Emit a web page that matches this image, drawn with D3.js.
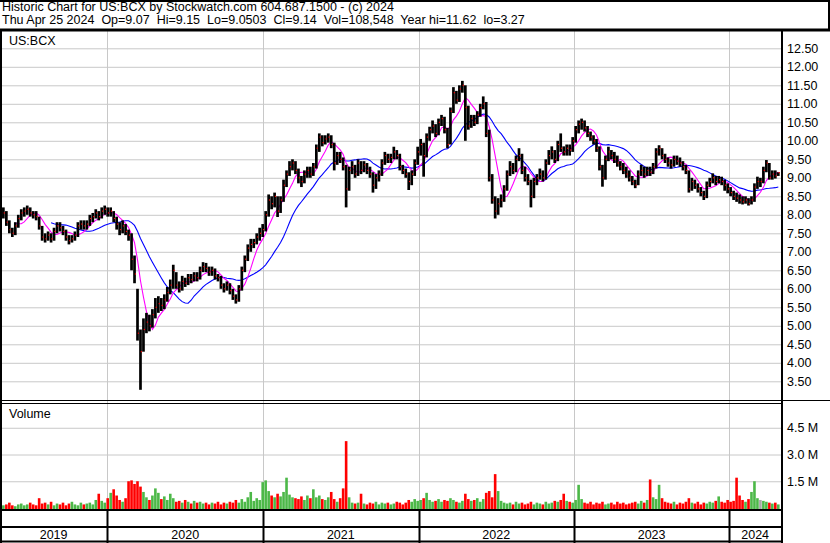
<!DOCTYPE html>
<html>
<head>
<meta charset="utf-8">
<script src="https://cdnjs.cloudflare.com/ajax/libs/d3/7.8.5/d3.min.js"></script>
<style>
    body { margin: 0; background: #fff; }
    svg { display: block; font-family: Arial, "Liberation Sans", sans-serif; }
</style>
</head>
<body>
<svg id="chart" width="830" height="543"></svg>
<script>
//weekly bars, one per thursday from Apr 25 2019 to Apr 25 2024
var firstWeek = new Date(2019, 3, 25);

var weekHigh = [
    8.15, 8.2, 8.1, 7.85, 7.65, 7.8, 8.0, 8.15, 8.2, 8.25,
    8.2, 8.1, 8.1, 7.95, 7.7, 7.5, 7.55, 7.5, 7.65, 7.8,
    7.8, 7.7, 7.6, 7.45, 7.45, 7.55, 7.8, 7.85, 7.85, 7.85,
    8.0, 8.05, 8.15, 8.1, 8.2, 8.25, 8.2, 8.2, 8.1, 7.95,
    7.8, 7.85, 7.75, 7.6, 7.5, 6.9, 6.0, 4.9, 5.2, 5.35,
    5.3, 5.45, 5.75, 5.8, 5.75, 5.85, 6.05, 6.25, 6.65, 6.45,
    6.2, 6.35, 6.3, 6.4, 6.4, 6.45, 6.45, 6.6, 6.72, 6.7,
    6.6, 6.6, 6.55, 6.4, 6.35, 6.15, 6.2, 6.15, 6.0, 5.85,
    6.1, 6.6, 6.9, 7.2, 7.35, 7.35, 7.5, 7.65, 7.75, 8.1,
    8.55, 8.5, 8.6, 8.5, 8.5, 8.95, 9.2, 9.45, 9.5, 9.45,
    9.25, 9.05, 9.2, 9.3, 9.3, 9.4, 9.9, 10.2, 10.15, 10.15,
    10.2, 10.15, 9.95, 9.7, 9.7, 9.55, 9.35, 9.3, 9.45, 9.35,
    9.5, 9.45, 9.45, 9.4, 9.3, 9.15, 9.1, 9.2, 9.5, 9.7,
    9.65, 9.65, 9.84, 9.75, 9.65, 9.35, 9.25, 9.15, 9.2, 9.5,
    9.84, 10.05, 9.95, 10.2, 10.38, 10.55, 10.45, 10.6, 10.7, 10.65,
    10.35, 10.9, 11.45, 11.35, 11.5, 11.62, 11.5, 10.95, 10.7, 10.7,
    10.8, 11.0, 11.2, 11.05, 10.3, 9.1, 8.5, 8.45, 8.55, 8.8,
    9.2, 9.45, 9.4, 9.6, 9.8, 9.65, 9.3, 9.1, 8.95, 9.0,
    9.1, 9.25, 9.2, 9.5, 9.75, 9.85, 9.75, 10.0, 10.2, 9.85,
    9.9, 9.9, 10.1, 10.4, 10.55, 10.6, 10.55, 10.4, 10.25, 10.15,
    10.05, 9.85, 9.35, 9.6, 9.84, 9.75, 9.7, 9.6, 9.45, 9.4,
    9.3, 9.2, 9.05, 8.95, 9.2, 9.35, 9.3, 9.3, 9.3, 9.4,
    9.8, 9.88, 9.8, 9.65, 9.55, 9.5, 9.6, 9.6, 9.55, 9.45,
    9.35, 9.2, 9.0, 8.95, 8.85, 8.75, 8.65, 8.9, 9.0, 9.12,
    9.05, 9.05, 9.03, 8.95, 8.85, 8.75, 8.65, 8.6, 8.55, 8.5,
    8.5, 8.45, 8.5, 8.85, 9.03, 9.0, 9.3, 9.48, 9.4, 9.2,
    9.2, 9.15
];

var weekLow = [
    7.9, 7.9, 7.7, 7.5, 7.4, 7.45, 7.65, 7.85, 7.95, 8.0,
    7.95, 7.9, 7.85, 7.6, 7.3, 7.25, 7.3, 7.25, 7.3, 7.5,
    7.55, 7.45, 7.3, 7.2, 7.25, 7.3, 7.4, 7.6, 7.6, 7.6,
    7.7, 7.8, 7.9, 7.85, 7.9, 8.0, 7.95, 7.95, 7.8, 7.6,
    7.45, 7.5, 7.45, 7.3, 6.5, 6.15, 4.6, 3.27, 4.3, 4.8,
    4.85, 4.95, 5.2, 5.35, 5.4, 5.45, 5.65, 5.85, 6.0, 6.0,
    5.9, 5.95, 6.05, 6.1, 6.15, 6.2, 6.2, 6.25, 6.45, 6.45,
    6.35, 6.35, 6.25, 6.2, 6.0, 5.9, 5.95, 5.85, 5.7, 5.6,
    5.65, 5.95, 6.45, 6.75, 7.0, 7.1, 7.2, 7.3, 7.4, 7.55,
    7.95, 8.15, 8.2, 7.94, 8.05, 8.35, 8.75, 9.05, 9.2, 9.1,
    8.85, 8.75, 8.85, 9.0, 9.0, 9.05, 9.25, 9.7, 9.85, 9.9,
    9.95, 9.8, 9.2, 9.35, 9.4, 9.2, 8.2, 8.65, 9.1, 9.0,
    9.05, 9.1, 9.15, 9.1, 9.0, 8.6, 8.7, 8.9, 9.05, 9.35,
    9.4, 9.4, 9.5, 9.5, 9.2, 9.1, 9.0, 8.67, 8.8, 9.05,
    9.35, 9.6, 9.03, 9.55, 10.0, 10.2, 10.1, 10.15, 10.4, 10.2,
    9.8, 9.9, 10.75, 11.0, 11.05, 11.3, 10.0, 10.3, 10.35, 10.4,
    10.45, 10.65, 10.85, 10.1, 8.9, 8.3, 7.9, 8.0, 8.2, 8.35,
    8.65, 9.05, 9.1, 9.15, 9.45, 9.1, 8.9, 8.8, 8.2, 8.45,
    8.8, 8.95, 8.9, 8.95, 9.35, 9.5, 9.4, 9.45, 9.7, 9.6,
    9.6, 9.6, 9.7, 9.95, 10.2, 10.3, 10.25, 10.1, 10.0, 9.9,
    9.7, 9.2, 8.76, 8.95, 9.45, 9.5, 9.4, 9.3, 9.2, 9.1,
    9.0, 8.9, 8.8, 8.72, 8.8, 9.05, 9.0, 9.05, 9.05, 9.1,
    9.25, 9.6, 9.5, 9.4, 9.3, 9.25, 9.3, 9.35, 9.3, 9.2,
    9.1, 8.6, 8.65, 8.7, 8.6, 8.5, 8.4, 8.45, 8.75, 8.85,
    8.8, 8.85, 8.8, 8.65, 8.58, 8.5, 8.4, 8.35, 8.3, 8.28,
    8.3, 8.25, 8.28, 8.35, 8.7, 8.75, 8.85, 9.15, 8.95, 8.95,
    8.98, 9.05
];

var weekClose = [
    8.0, 8.05, 7.8, 7.6, 7.5, 7.7, 7.9, 8.05, 8.1, 8.15,
    8.05, 8.0, 7.95, 7.7, 7.4, 7.35, 7.45, 7.35, 7.55, 7.7,
    7.65, 7.55, 7.4, 7.3, 7.35, 7.45, 7.7, 7.75, 7.7, 7.75,
    7.9, 7.95, 8.05, 7.95, 8.1, 8.15, 8.05, 8.1, 7.9, 7.75,
    7.6, 7.7, 7.55, 7.45, 6.8, 6.4, 4.8, 4.3, 4.9, 5.1,
    5.0, 5.3, 5.5, 5.6, 5.55, 5.7, 5.9, 6.1, 6.5, 6.1,
    6.0, 6.2, 6.15, 6.3, 6.25, 6.35, 6.3, 6.5, 6.6, 6.55,
    6.45, 6.5, 6.35, 6.3, 6.1, 6.0, 6.1, 5.95, 5.8, 5.7,
    6.0, 6.5, 6.8, 7.1, 7.2, 7.25, 7.4, 7.5, 7.6, 8.0,
    8.4, 8.3, 8.5, 8.1, 8.4, 8.8, 9.1, 9.3, 9.4, 9.2,
    9.0, 8.9, 9.1, 9.2, 9.1, 9.3, 9.8, 10.1, 9.95, 10.05,
    10.1, 9.9, 9.4, 9.6, 9.5, 9.3, 8.7, 9.2, 9.3, 9.1,
    9.4, 9.2, 9.35, 9.2, 9.1, 8.8, 9.0, 9.1, 9.4, 9.6,
    9.5, 9.55, 9.7, 9.6, 9.3, 9.2, 9.1, 8.9, 9.1, 9.4,
    9.7, 9.9, 9.6, 10.1, 10.3, 10.4, 10.2, 10.5, 10.6, 10.3,
    9.9, 10.8, 11.3, 11.1, 11.4, 11.5, 10.9, 10.4, 10.6, 10.5,
    10.7, 10.9, 11.0, 10.2, 9.0, 8.4, 8.1, 8.3, 8.4, 8.7,
    9.1, 9.3, 9.2, 9.5, 9.6, 9.2, 9.0, 8.9, 8.5, 8.9,
    9.0, 9.1, 9.0, 9.4, 9.6, 9.7, 9.5, 9.9, 9.8, 9.7,
    9.8, 9.75, 10.0, 10.3, 10.45, 10.5, 10.35, 10.2, 10.1, 10.0,
    9.8, 9.3, 9.0, 9.5, 9.7, 9.6, 9.5, 9.4, 9.3, 9.2,
    9.1, 9.0, 8.9, 8.8, 9.1, 9.2, 9.1, 9.2, 9.15, 9.3,
    9.7, 9.8, 9.6, 9.5, 9.4, 9.35, 9.5, 9.45, 9.4, 9.3,
    9.2, 8.7, 8.9, 8.8, 8.7, 8.6, 8.5, 8.8, 8.9, 9.0,
    8.9, 8.95, 8.9, 8.8, 8.7, 8.6, 8.5, 8.45, 8.4, 8.35,
    8.4, 8.3, 8.4, 8.75, 8.9, 8.9, 9.2, 9.4, 9.0, 9.1,
    9.05, 9.14
];

//typical daily volume of each week, in millions
var weekVolume = [
    0.25, 0.15, 0.2, 0.3, 0.15, 0.1, 0.2, 0.25, 0.15, 0.2,
    0.3, 0.2, 0.15, 0.55, 0.25, 0.3, 0.2, 0.35, 0.15, 0.25,
    0.2, 0.3, 0.15, 0.25, 0.35, 0.2, 0.15, 0.3, 0.2, 0.25,
    0.3, 0.2, 0.45, 0.8, 0.4, 0.3, 0.55, 0.85, 1.05, 0.7,
    0.45, 0.35, 0.55, 1.5, 1.55, 1.35, 1.5, 1.2, 0.9, 0.6,
    0.45, 0.7, 1.1, 0.85, 0.5, 0.65, 0.45, 0.8, 0.55, 0.35,
    0.4, 0.3, 0.45, 0.35, 0.25, 0.4, 0.3, 0.35, 0.25, 0.3,
    0.2, 0.3, 0.25, 0.35, 0.2, 0.3, 0.25, 0.35, 0.3, 0.45,
    0.3, 0.5, 0.35, 0.6, 0.9, 0.4, 0.55, 0.45, 1.45, 1.55,
    0.95, 0.7, 0.6, 0.8, 0.65, 0.9, 1.7, 0.75, 0.6, 0.55,
    0.5, 0.65, 0.45, 0.7, 0.55, 1.05, 0.6, 0.7, 0.5, 0.45,
    0.6, 0.9, 0.5, 0.35, 0.55, 1.1, 3.75, 0.6, 0.3, 0.25,
    0.3, 0.8, 0.25, 0.2, 0.3, 0.25, 0.35, 0.2, 0.3, 0.25,
    0.3, 0.2, 0.25, 0.35, 0.3, 0.2, 0.3, 0.45, 0.35, 0.5,
    0.4, 0.45, 0.55, 0.85, 0.45, 0.35, 0.4, 0.5, 0.35, 0.45,
    0.4, 0.55, 0.45, 0.35, 0.3, 0.4, 0.8, 0.5, 0.4, 0.45,
    0.55, 0.35, 0.5, 0.85, 0.95, 0.6, 1.9, 0.95, 0.4, 0.3,
    0.25, 0.3, 0.2, 0.35, 0.25, 0.3, 0.2, 0.25, 0.35, 0.2,
    0.3, 0.25, 0.2, 0.35, 0.25, 0.3, 0.4, 0.35, 0.45, 0.8,
    0.4, 0.35, 0.3, 0.45, 1.3, 0.5, 0.3, 0.25, 0.35, 0.2,
    0.3, 0.25, 0.35, 0.2, 0.25, 0.3, 0.2, 0.35, 0.25, 0.3,
    0.2, 0.25, 0.3, 0.35, 0.25, 0.4, 0.3, 0.45, 1.6, 0.6,
    0.5, 1.3, 0.55, 0.35, 0.3, 0.25, 0.35, 0.2, 0.3, 0.25,
    0.35, 0.55, 0.3, 0.25, 0.35, 0.2, 0.3, 0.25, 0.35, 0.3,
    0.4, 0.65, 0.35, 0.3, 0.45, 0.35, 0.4, 1.7, 0.7, 0.45,
    0.35, 0.5, 0.9, 1.5, 0.55, 0.45, 0.4, 0.35, 0.3, 0.25,
    0.3, 0.2
];

//axis labels
var priceTicks = [3.5, 4, 4.5, 5, 5.5, 6, 6.5, 7, 7.5, 8, 8.5, 9, 9.5, 10, 10.5, 11, 11.5, 12, 12.5];
var volumeTicks = [1.5, 3, 4.5];
var headerLines = [
    'Historic Chart for US:BCX by Stockwatch.com 604.687.1500 - (c) 2024',
    'Thu Apr 25 2024  Op=9.07  Hi=9.15  Lo=9.0503  Cl=9.14  Vol=108,548  Year hi=11.62  lo=3.27'
];

//moving average periods in weeks
var fastPeriod = 6,
    slowPeriod = 18;

//layout
var W = 830,
    H = 543,
    plotRight = 781,
    priceTop = 31,
    priceBottom = 401,
    volBottom = 510,
    fontSize = '12.5px';

var svg = d3.select('#chart');

var weeks = weekClose.map(function (c, i) {
    return new Date(2019, 3, 25 + i * 7);
});

//scales
var x = d3.scaleTime()
    .domain([firstWeek, new Date(2024, 3, 25)])
    .range([0.4, 778.3]);
var y = d3.scaleLinear().domain([3.5, 12.5]).range([381.3, 48.3]);
var yVol = d3.scaleLinear().domain([0, 6]).range([508, 401]);

var years = d3.timeYear.range(new Date(2020, 0, 1), new Date(2024, 3, 26));

//gets moving average of the closes
var movingAverage = function (values, n) {
    return values.map(function (v, i) {
        if (i < n - 1)
            return null;
        return d3.mean(values.slice(i - n + 1, i + 1));
    });
};

//styles a label axis
var styleLabels = function (g) {
    g.select('.domain').remove();
    g.selectAll('text').attr('font-size', fontSize).attr('font-family', null).attr('fill', '#000');
};

//horizontal price grid
svg.append('g')
    .attr('transform', 'translate(' + plotRight + ',0)')
    .call(d3.axisLeft(y).tickValues(priceTicks).tickSize(plotRight - 2).tickFormat(''))
    .call(function (g) {
        g.select('.domain').remove();
        g.selectAll('line').attr('stroke', '#c8c8c8');
    });

//horizontal volume grid
svg.append('g')
    .attr('transform', 'translate(' + plotRight + ',0)')
    .call(d3.axisLeft(yVol).tickValues(volumeTicks).tickSize(plotRight - 2).tickFormat(''))
    .call(function (g) {
        g.select('.domain').remove();
        g.selectAll('line').attr('stroke', '#c8c8c8');
    });

//vertical year grid through both panels
svg.append('g').selectAll('line')
    .data(years)
    .enter().append('line')
    .attr('x1', function (d) { return Math.round(x(d)) + 0.5; })
    .attr('x2', function (d) { return Math.round(x(d)) + 0.5; })
    .attr('y1', priceTop)
    .attr('y2', volBottom)
    .attr('stroke', '#c8c8c8');

//panel captions
svg.append('text').attr('x', 9).attr('y', 45).attr('font-size', fontSize).text('US:BCX');
svg.append('text').attr('x', 9).attr('y', 418).attr('font-size', fontSize).text('Volume');

//volume bars
svg.append('g').selectAll('rect')
    .data(weekVolume)
    .enter().append('rect')
    .attr('x', function (d, i) { return x(weeks[i]) - 1.3; })
    .attr('width', 2.6)
    .attr('y', function (d) { return yVol(d); })
    .attr('height', function (d) { return volBottom - yVol(d); })
    .attr('fill', function (d, i) {
        var prev = i === 0 ? weekClose[0] : weekClose[i - 1];
        if (weekClose[i] > prev)
            return '#4cb848';
        if (weekClose[i] < prev)
            return '#ff0000';
        return '#a8a8a8';
    });

//moving averages
var line = d3.line()
    .defined(function (d) { return d !== null; })
    .x(function (d, i) { return x(weeks[i]); })
    .y(function (d) { return y(d); });

svg.append('path')
    .datum(movingAverage(weekClose, slowPeriod))
    .attr('d', line)
    .attr('fill', 'none')
    .attr('stroke', '#0000ff')
    .attr('stroke-width', 1.1);

svg.append('path')
    .datum(movingAverage(weekClose, fastPeriod))
    .attr('d', line)
    .attr('fill', 'none')
    .attr('stroke', '#ff00ff')
    .attr('stroke-width', 1.1);

//price bars
var bars = svg.append('g');
bars.selectAll('line')
    .data(weekClose)
    .enter().append('line')
    .attr('x1', function (d, i) { return x(weeks[i]); })
    .attr('x2', function (d, i) { return x(weeks[i]); })
    .attr('y1', function (d, i) { return y(weekHigh[i]); })
    .attr('y2', function (d, i) { return y(weekLow[i]); })
    .attr('stroke', '#000')
    .attr('stroke-width', 2.7);

//close marks
bars.selectAll('rect')
    .data(weekClose)
    .enter().append('rect')
    .attr('x', function (d, i) { return x(weeks[i]) + 0.3; })
    .attr('y', function (d) { return y(d) - 0.6; })
    .attr('width', 1.2)
    .attr('height', 1.2)
    .attr('fill', '#ff0000');

//right price labels
svg.append('g')
    .attr('transform', 'translate(' + (plotRight + 1) + ',0)')
    .call(d3.axisRight(y).tickValues(priceTicks).tickSize(0).tickPadding(5).tickFormat(d3.format('.2f')))
    .call(styleLabels);

//right volume labels
svg.append('g')
    .attr('transform', 'translate(' + (plotRight + 1) + ',0)')
    .call(d3.axisRight(yVol).tickValues(volumeTicks).tickSize(0).tickPadding(5)
        .tickFormat(function (d) { return d.toFixed(1) + ' M'; }))
    .call(styleLabels);

//header text
svg.append('g').selectAll('text')
    .data(headerLines)
    .enter().append('text')
    .attr('x', 2)
    .attr('y', function (d, i) { return 11 + i * 13; })
    .attr('font-size', fontSize)
    .style('white-space', 'pre')
    .text(function (d) { return d; });

//frame lines
var frame = svg.append('g').attr('stroke', '#000');
frame.append('line').attr('x1', 0).attr('x2', W).attr('y1', 1).attr('y2', 1).attr('stroke-width', 2);
frame.append('line').attr('x1', W - 1).attr('x2', W - 1).attr('y1', 0).attr('y2', 31).attr('stroke-width', 2);
frame.append('line').attr('x1', 0).attr('x2', W).attr('y1', 30).attr('y2', 30).attr('stroke-width', 3);
frame.append('line').attr('x1', 1).attr('x2', 1).attr('y1', 30).attr('y2', H).attr('stroke-width', 2);
frame.append('line').attr('x1', plotRight + 1).attr('x2', plotRight + 1).attr('y1', 30).attr('y2', H).attr('stroke-width', 2);
frame.append('line').attr('x1', 0).attr('x2', W).attr('y1', priceBottom - 0.5).attr('y2', priceBottom - 0.5);
frame.append('line').attr('x1', 0).attr('x2', plotRight).attr('y1', priceBottom + 2.5).attr('y2', priceBottom + 2.5);
frame.append('line').attr('x1', 0).attr('x2', plotRight).attr('y1', volBottom).attr('y2', volBottom).attr('stroke-width', 2);
frame.append('line').attr('x1', 0).attr('x2', plotRight).attr('y1', 527).attr('y2', 527).attr('stroke-width', 2);
frame.append('line').attr('x1', 0).attr('x2', plotRight).attr('y1', 541.5).attr('y2', 541.5).attr('stroke-width', 2);

//year dividers in the date rows
frame.selectAll('.year-div')
    .data(years)
    .enter().append('line')
    .attr('class', 'year-div')
    .attr('x1', function (d) { return Math.round(x(d)) + 0.5; })
    .attr('x2', function (d) { return Math.round(x(d)) + 0.5; })
    .attr('y1', volBottom)
    .attr('y2', H)
    .attr('stroke-width', 2);

//year labels centred in their span
var bounds = [0].concat(years.map(function (d) { return x(d); })).concat([plotRight]);
svg.append('g').selectAll('text')
    .data([2019, 2020, 2021, 2022, 2023, 2024])
    .enter().append('text')
    .attr('x', function (d, i) { return (bounds[i] + bounds[i + 1]) / 2; })
    .attr('y', 539)
    .attr('text-anchor', 'middle')
    .attr('font-size', fontSize)
    .text(function (d) { return d; });
</script>
</body>
</html>
